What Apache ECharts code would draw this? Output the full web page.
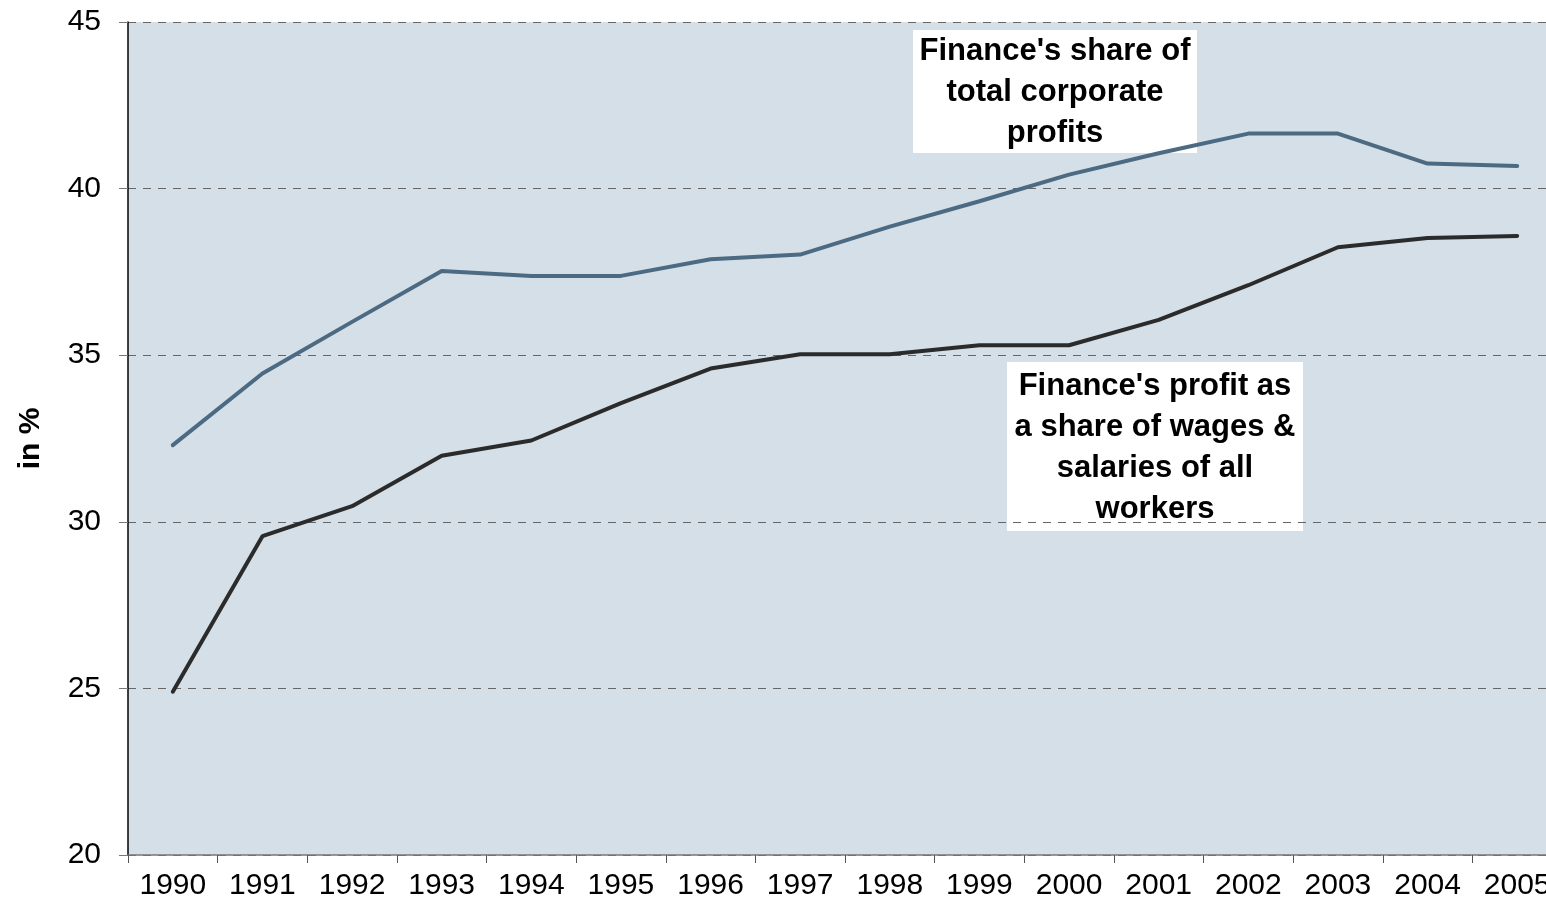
<!DOCTYPE html>
<html>
<head>
<meta charset="utf-8">
<script src="https://cdn.jsdelivr.net/npm/echarts@6/dist/echarts.min.js"></script>
<style>
  html, body { margin: 0; padding: 0; background: #fff; overflow: hidden; }
  #chart { width: 1562px; height: 916px; }
</style>
</head>
<body>
<div id="chart"></div>
<script>
// years on the x axis
const years = ['1990', '1991', '1992', '1993', '1994', '1995', '1996', '1997',
  '1998', '1999', '2000', '2001', '2002', '2003', '2004', '2005'];

// Finance's share of total corporate profits (%)
const shareOfProfits = [32.3, 34.45, 36.0, 37.53, 37.38, 37.38, 37.88, 38.02,
  38.86, 39.62, 40.42, 41.06, 41.65, 41.65, 40.75, 40.68];

// Finance's profit as a share of wages & salaries of all workers (%)
const shareOfWages = [24.9, 29.57, 30.47, 31.98, 32.44, 33.56, 34.6, 35.03,
  35.03, 35.3, 35.3, 36.06, 37.1, 38.24, 38.52, 38.58];

const yTicks = { min: 20, max: 45, interval: 5 };

const chart = echarts.init(document.getElementById('chart'));

const font = 'Liberation Sans, Arial, sans-serif';

// white label box sitting over the plot
function note(x, y, w, h, lines) {
  return {
    type: 'group',
    left: x,
    top: y,
    z: 100,
    children: [
      { type: 'rect', shape: { x: 0, y: 0, width: w, height: h }, style: { fill: '#fff' } },
      {
        type: 'text',
        x: w / 2,
        y: h / 2 + 1,
        style: {
          text: lines.join('\n'),
          font: 'bold 31px ' + font,
          fill: '#000',
          align: 'center',
          verticalAlign: 'middle',
          lineHeight: 41,
        },
      },
    ],
  };
}

chart.setOption({
  animation: false,
  textStyle: { fontFamily: font },
  grid: {
    left: 128, top: 22, right: 0, bottom: 61,
    containLabel: false, outerBoundsMode: 'none',
    show: true, backgroundColor: '#d5dfe7', borderWidth: 0,
  },
  xAxis: {
    type: 'category',
    data: years,
    boundaryGap: true,
    axisLine: { lineStyle: { color: '#777', width: 1.5 } },
    axisTick: { show: true, length: 8, inside: false, lineStyle: { color: '#555' } },
    axisLabel: { color: '#000', fontSize: 30, margin: 16 },
  },
  yAxis: {
    type: 'value',
    min: yTicks.min,
    max: yTicks.max,
    interval: yTicks.interval,
    name: 'in %',
    nameLocation: 'middle',
    nameGap: 82,
    nameTextStyle: { color: '#000', fontSize: 30, fontWeight: 'bold' },
    axisLine: { show: true, lineStyle: { color: '#000', width: 1.5 } },
    axisTick: { show: true, length: 9, lineStyle: { color: '#777' } },
    axisLabel: { color: '#000', fontSize: 30, margin: 27 },
    splitLine: { show: true, lineStyle: { color: '#666', type: [8, 7], width: 1 } },
  },
  series: [
    {
      type: 'line',
      data: shareOfProfits,
      symbol: 'none',
      lineStyle: { color: '#4d6a83', width: 4, cap: 'round' },
    },
    {
      type: 'line',
      data: shareOfWages,
      symbol: 'none',
      lineStyle: { color: '#2b2b2b', width: 4, cap: 'round' },
    },
  ],
  graphic: [
    note(913, 30, 284, 123, ["Finance's share of", 'total corporate', 'profits']),
    note(1007, 362, 296, 169, ["Finance's profit as", 'a share of wages &', 'salaries of all', 'workers']),
  ],
});
</script>
</body>
</html>
